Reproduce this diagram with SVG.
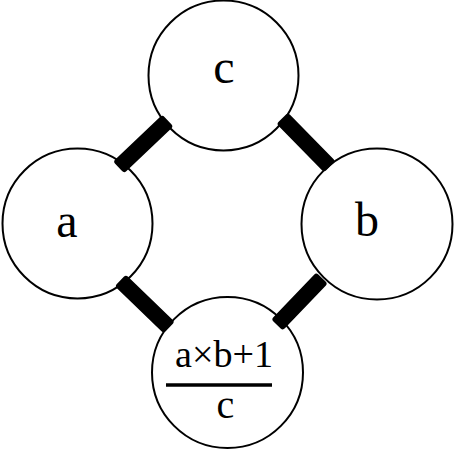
<svg xmlns="http://www.w3.org/2000/svg" width="458" height="463" viewBox="0 0 458 463">
<style>
.node circle{fill:#fff;stroke:#000;stroke-width:2}
.node text{font-family:"Liberation Serif","Times New Roman",serif;fill:#000;text-anchor:middle}
.big{font-size:48px}
.frac{font-size:38px}
.bar{fill:#000}
</style>
<rect width="458" height="463" fill="#fff"/>
<g id="node-c" class="node">
<circle cx="223.5" cy="75.5" r="75"/>
<text class="big" x="224" y="83">c</text>
</g>
<g id="node-a" class="node">
<circle cx="77.5" cy="223.5" r="75"/>
<text class="big" x="67" y="237">a</text>
</g>
<g id="node-b" class="node">
<circle cx="377" cy="224" r="75.5"/>
<text class="big" x="367" y="236">b</text>
</g>
<g id="node-result" class="node">
<circle cx="227.5" cy="372.5" r="75.5"/>
<text class="frac" x="224" y="367" textLength="98" lengthAdjust="spacingAndGlyphs">a×b+1</text>
<line x1="166" y1="385" x2="272" y2="385" stroke="#000" stroke-width="3.5"/>
<text class="frac" x="225.5" y="418" style="font-size:40px">c</text>
</g>
<g id="connectors">
<rect class="bar" x="-34" y="-8" width="68" height="16" rx="3" transform="translate(143.25 144) rotate(-43.5)"/>
<rect class="bar" x="-34" y="-8" width="68" height="16" rx="3" transform="translate(306 142.5) rotate(45.6)"/>
<rect class="bar" x="-34" y="-8" width="68" height="16" rx="3" transform="translate(144.75 304) rotate(44.1)"/>
<rect class="bar" x="-32.5" y="-8" width="65" height="16" rx="3" transform="translate(299.5 301.5) rotate(-46.3)"/>
</g>
</svg>
